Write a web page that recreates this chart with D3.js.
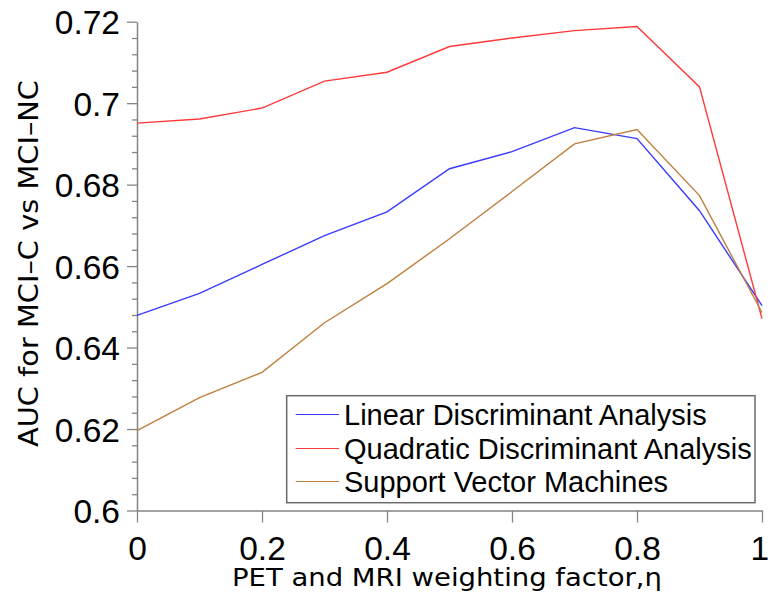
<!DOCTYPE html>
<html>
<head>
<meta charset="utf-8">
<script src="https://cdn.jsdelivr.net/npm/d3@7"></script>
<style>
  html, body { margin: 0; padding: 0; background: #fff; }
  svg { display: block; }
</style>
</head>
<body>
<svg id="chart" width="770" height="601"></svg>
<script>
// ---- data ----
const eta = [0, 0.1, 0.2, 0.3, 0.4, 0.5, 0.6, 0.7, 0.8, 0.9, 1.0];
const lda = [0.6479, 0.6533, 0.6604, 0.6675, 0.6733, 0.6839, 0.6881, 0.6940, 0.6913, 0.6736, 0.6503];
const qda = [0.6951, 0.6961, 0.6988, 0.7054, 0.7076, 0.7139, 0.7160, 0.7178, 0.7188, 0.7040, 0.6471];
const svmv = [0.6196, 0.6277, 0.6339, 0.6461, 0.6557, 0.6667, 0.6783, 0.6900, 0.6935, 0.6773, 0.6486];
const seriesNames = ["Linear Discriminant Analysis", "Quadratic Discriminant Analysis", "Support Vector Machines"];
const xTickValues = [0, 0.2, 0.4, 0.6, 0.8, 1];
const xTickLabels = ["0", "0.2", "0.4", "0.6", "0.8", "1"];
const yTickValues = [0.6, 0.62, 0.64, 0.66, 0.68, 0.7, 0.72];
const yTickLabels = ["0.6", "0.62", "0.64", "0.66", "0.68", "0.7", "0.72"];
const yMinorStep = 0.004;
const xTitle = "PET and MRI weighting factor,\u03B7";
const yTitle = "AUC for MCI\u2013C vs MCI\u2013NC";

(function () {
// ---- layout ----
const svg = d3.select("#chart");
const pLeft = 137, pRight = 762, pTop = 21.7, pBottom = 510.5;
const colors = ["#3a3aff", "#ff3a3a", "#bf7f3f"];
const axisColor = "#858585";
const tickFont = "'Liberation Sans', Arial, Helvetica, sans-serif";

const x = d3.scaleLinear().domain([0, 1]).range([pLeft, pRight]);
const y = d3.scaleLinear().domain([0.6, 0.72]).range([pBottom, pTop]);

// minor y ticks
const minorVals = d3.range(0, 31).map(i => +(0.6 + i * yMinorStep).toFixed(4))
  .filter(v => !yTickValues.some(t => Math.abs(t - v) < 1e-9));

const gyMinor = svg.append("g").attr("transform", `translate(${pLeft},0)`)
  .call(d3.axisLeft(y).tickValues(minorVals).tickSize(5).tickFormat(""));
gyMinor.select(".domain").remove();

const gy = svg.append("g").attr("transform", `translate(${pLeft},0)`)
  .call(d3.axisLeft(y).tickValues(yTickValues).tickSize(10).tickPadding(7)
    .tickFormat((d, i) => yTickLabels[i]).tickSizeOuter(0));

const gx = svg.append("g").attr("transform", `translate(0,${pBottom})`)
  .call(d3.axisBottom(x).tickValues(xTickValues).tickSize(12).tickPadding(14)
    .tickFormat((d, i) => xTickLabels[i]).tickSizeOuter(0));

[gy, gx, gyMinor].forEach(g => {
  g.selectAll(".domain").attr("stroke", axisColor).attr("stroke-width", 1.5);
  g.selectAll(".tick line").attr("stroke", axisColor).attr("stroke-width", 1.3);
  g.selectAll("text").attr("fill", "#000").style("font-family", tickFont).style("font-size", "33.5px");
});
gy.selectAll(".tick text").attr("dy", "0.36em");
// keep the last x label inside the window
gx.selectAll(".tick text").filter((d, i) => i === xTickValues.length - 1).attr("dx", "-0.08em");

// lines
const line = d3.line().x((d, i) => x(eta[i])).y(d => y(d));
[lda, qda, svmv].forEach((s, k) => {
  svg.append("path").datum(s)
    .attr("fill", "none")
    .attr("stroke", colors[k])
    .attr("stroke-width", 1.4)
    .attr("d", line);
});

// axis titles
svg.append("text")
  .attr("x", 447).attr("y", 586)
  .attr("text-anchor", "middle")
  .attr("textLength", 430).attr("lengthAdjust", "spacingAndGlyphs")
  .style("font-family", "'DejaVu Sans', sans-serif").style("font-size", "24px")
  .attr("fill", "#000")
  .text(xTitle);

svg.append("text")
  .attr("transform", "translate(38,263.5) rotate(-90)")
  .attr("text-anchor", "middle")
  .attr("textLength", 367).attr("lengthAdjust", "spacingAndGlyphs")
  .style("font-family", "'DejaVu Sans', sans-serif").style("font-size", "27px")
  .attr("fill", "#000")
  .text(yTitle);

// legend
const lg = svg.append("g");
lg.append("rect")
  .attr("x", 286.7).attr("y", 395.7).attr("width", 468.3).attr("height", 107)
  .attr("fill", "#fff").attr("stroke", "#6a6a6a").attr("stroke-width", 1.5);
const baselines = [425, 459, 492];
seriesNames.forEach((name, k) => {
  lg.append("line")
    .attr("x1", 295.7).attr("x2", 339)
    .attr("y1", baselines[k] - 10.5).attr("y2", baselines[k] - 10.5)
    .attr("stroke", colors[k]).attr("stroke-width", 1);
  lg.append("text")
    .attr("x", 344).attr("y", baselines[k])
    .style("font-family", tickFont).style("font-size", "29px")
    .attr("fill", "#000")
    .text(name);
});
})();
</script>
</body>
</html>
